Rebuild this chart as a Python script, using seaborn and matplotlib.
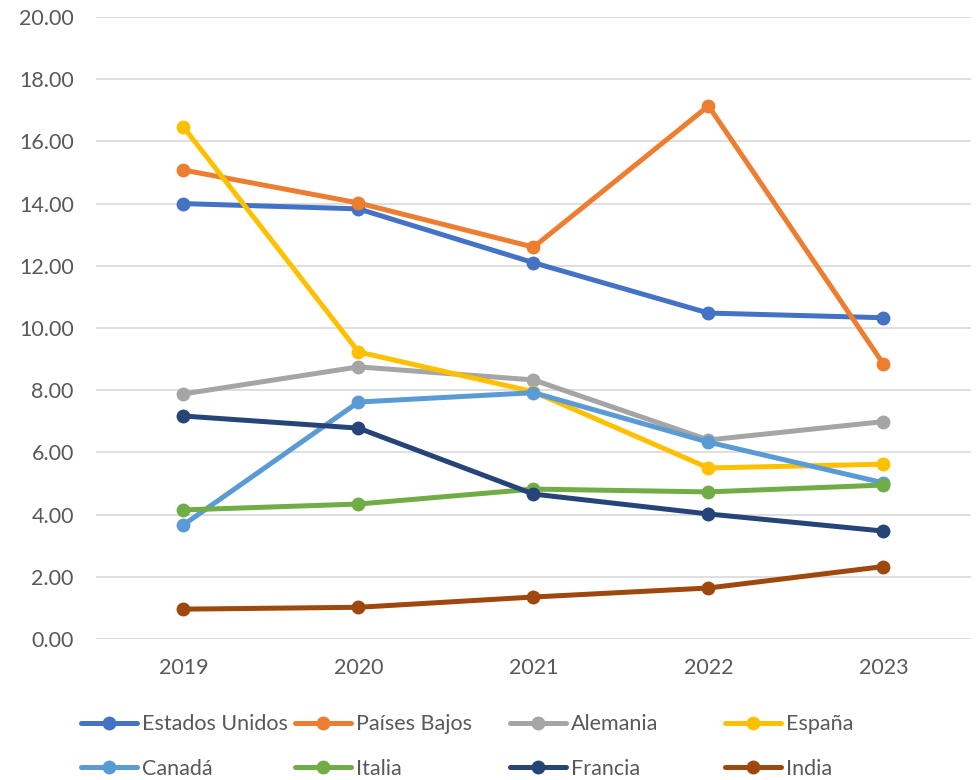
import matplotlib
matplotlib.use("Agg")
import matplotlib.pyplot as plt
import seaborn as sns
import pandas as pd
from matplotlib.ticker import FormatStrFormatter

years = [2019, 2020, 2021, 2022, 2023]
countries = ["Estados Unidos", "Países Bajos", "Alemania", "España",
             "Canadá", "Italia", "Francia", "India"]
estados_unidos = [14.00, 13.83, 12.10, 10.48, 10.33]
paises_bajos = [15.08, 14.02, 12.60, 17.14, 8.84]
alemania = [7.88, 8.75, 8.33, 6.40, 6.99]
espana = [16.46, 9.23, 7.95, 5.50, 5.62]
canada = [3.67, 7.62, 7.92, 6.33, 5.02]
italia = [4.15, 4.34, 4.82, 4.73, 4.95]
francia = [7.17, 6.78, 4.66, 4.02, 3.47]
india = [0.96, 1.02, 1.35, 1.64, 2.33]
series = [estados_unidos, paises_bajos, alemania, espana, canada, italia, francia, india]
colors = ["#4472C4", "#ED7D31", "#A5A5A5", "#FFC000",
          "#5B9BD5", "#70AD47", "#264478", "#9E480E"]

rows = []
for c, vals in zip(countries, series):
    for y, v in zip(years, vals):
        rows.append({"country": c, "year": y, "value": v})
df = pd.DataFrame(rows)

sns.set_theme(style="white")
plt.rcParams["font.family"] = ["Lato", "DejaVu Sans"]

fig = plt.figure(figsize=(9.76, 7.8), dpi=100)
ax = fig.add_axes([96 / 976, 1 - 639 / 780, 875 / 976, 622 / 780])

sns.lineplot(data=df, x="year", y="value", hue="country", hue_order=countries,
             palette=colors, marker="o", markersize=10, markeredgewidth=0,
             linewidth=3.6, ax=ax, legend=True)

handles, labels = ax.get_legend_handles_labels()
ax.get_legend().remove()

ax.set_xlim(2018.5, 2023.5)
ax.set_ylim(0, 20)
ax.set_yticks(range(0, 21, 2))
ax.set_xticks(years)
ax.yaxis.set_major_formatter(FormatStrFormatter("%.2f"))
ax.grid(axis="y", color="#D9D9D9", linewidth=1.2)
ax.grid(axis="x", visible=False)
ax.set_axisbelow(True)
for s in ax.spines.values():
    s.set_visible(False)
ax.set_xlabel("")
ax.set_ylabel("")
ax.tick_params(axis="both", length=0, labelsize=15.5, labelcolor="#595959")
ax.tick_params(axis="y", pad=16)
ax.tick_params(axis="x", pad=14)

col_x = [81, 295, 510, 725]
hmap = dict(zip(labels, handles))
for i, x0 in enumerate(col_x):
    labs = [countries[i], countries[i + 4]]
    hs = [hmap[l] for l in labs]
    leg = fig.legend(hs, labs, loc="center left",
                     bbox_to_anchor=(x0 / 976, 1 - 746.5 / 780),
                     frameon=False, fontsize=15.5, handlelength=2.6,
                     handletextpad=0.25, borderpad=0, borderaxespad=0,
                     labelspacing=1.15, labelcolor="#595959")

fig.savefig("out.png", dpi=100)
